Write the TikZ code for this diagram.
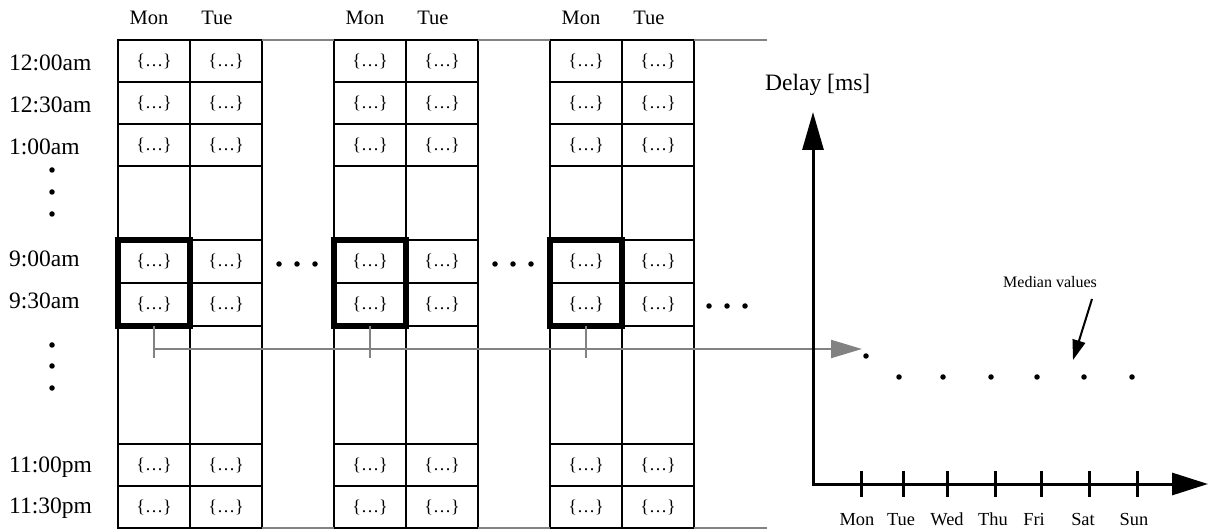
\documentclass[tikz,border=0pt]{standalone}
\usepackage{fontspec}
\setmainfont{Liberation Serif}
\usetikzlibrary{arrows.meta}
\definecolor{linegray}{RGB}{130,130,130}
\begin{document}
\begin{tikzpicture}[x=1pt,y=-1pt,
  cell/.style={draw, line width=2pt, minimum width=72pt, inner sep=0pt, outer sep=0pt, font=\fontsize{18}{20}\selectfont},
  thickbox/.style={draw, line width=5.5pt},
  gridrule/.style={draw=linegray, line width=2pt},
  conn/.style={draw=linegray, line width=2pt},
  connarrow/.style={conn, -{Triangle[length=31pt,width=18pt]}, color=linegray},
  axis/.style={draw, line width=3pt, {Triangle[length=38pt,width=21pt]}-{Triangle[length=36pt,width=22pt]}},
  tick/.style={draw, line width=3pt},
  medarrow/.style={draw, line width=2pt, -{Triangle[length=20pt,width=13pt]}},
  dot/.style={circle, fill, inner sep=0pt, minimum size=5.5pt},
  timelab/.style={anchor=base west, inner sep=0pt, font=\fontsize{23.5}{26}\selectfont},
  header/.style={anchor=base, inner sep=0pt, font=\fontsize{20.5}{24}\selectfont},
  daylab/.style={anchor=base, inner sep=0pt, font=\fontsize{18.4}{22}\selectfont},
  axislab/.style={anchor=base west, inner sep=0pt, font=\fontsize{23.5}{27}\selectfont},
  medlab/.style={anchor=base west, inner sep=0pt, font=\fontsize{16}{18}\selectfont}
]
\useasboundingbox (0,0) rectangle (1208,529);

% grid cells
\foreach \b in {0,1,2} {
  \foreach \c in {0,1} {
    \foreach \r/\ya/\yb in {1/40/82, 2/82/124, 3/124/166, 5/240/283, 6/283/326, 8/444/486, 9/486/528} {
      \node[cell, minimum height={(\yb-\ya)*1pt}] (c-\b-\c-\r) at ({118+216*\b+72*\c+36}, {(\ya+\yb)/2}) {\{…\}};
    }
    \foreach \r/\ya/\yb in {4/166/240, 7/326/444} {
      \node[cell, minimum height={(\yb-\ya)*1pt}] (c-\b-\c-\r) at ({118+216*\b+72*\c+36}, {(\ya+\yb)/2}) {};
    }
  }
  \node[header] (hm-\b) at ({149+216*\b}, 25) {Mon};
  \node[header] (ht-\b) at ({217+216*\b}, 25) {Tue};
}

% gray rules between blocks
\coordinate (topend) at (767,40);
\coordinate (botend) at (767,528);
\draw[gridrule] (c-0-1-1.north east) -- (c-1-0-1.north west);
\draw[gridrule] (c-1-1-1.north east) -- (c-2-0-1.north west);
\draw[gridrule] (c-2-1-1.north east) -- (topend);
\draw[gridrule] (c-0-1-9.south east) -- (c-1-0-9.south west);
\draw[gridrule] (c-1-1-9.south east) -- (c-2-0-9.south west);
\draw[gridrule] (c-2-1-9.south east) -- (botend);

% thick boxes
\foreach \b in {0,1,2} {
  \draw[thickbox] (c-\b-0-5.north west) rectangle (c-\b-0-6.south east);
}

% time labels
\node[timelab] (t1) at (9,70.5) {12:00am};
\node[timelab] (t2) at (9,112.5) {12:30am};
\node[timelab] (t3) at (9,154.5) {1:00am};
\node[timelab] (t5) at (9,267) {9:00am};
\node[timelab] (t6) at (9,309) {9:30am};
\node[timelab] (t8) at (9,472) {11:00pm};
\node[timelab] (t9) at (9,513) {11:30pm};

% vertical ellipsis dots
\foreach \y [count=\i] in {170,192,214} { \node[dot] (va-\i) at (52,\y) {}; }
\foreach \y [count=\i] in {345,366,388} { \node[dot] (vb-\i) at (52,\y) {}; }

% horizontal ellipsis dots
\foreach \x [count=\i] in {279,297,315} { \node[dot] (ha-\i) at (\x,264) {}; }
\foreach \x [count=\i] in {495,513,531} { \node[dot] (hb-\i) at (\x,264) {}; }
\foreach \x [count=\i] in {709,727,745} { \node[dot] (hc-\i) at (\x,306) {}; }

% connector
\coordinate (bus) at (0,349);
\coordinate (tip) at (862,349);
\foreach \b in {0,1,2} {
  \draw[conn] (c-\b-0-6.south) -- ++(0,32);
}
\draw[connarrow] (c-0-0-6.south |- bus) -- (tip);

% axes
\coordinate (ytop) at (813,112);
\coordinate (origin) at (813,484);
\coordinate (xend) at (1208,484);
\draw[axis] (ytop) -- (origin) -- (xend);
\node[axislab] (ylab) at (765,91) {Delay [ms]};

% ticks and day labels
\foreach \x/\lx/\d in {861/857/Mon, 903/901/Tue, 947/947/Wed, 995/993/Thu, 1041/1034/Fri, 1089/1083/Sat, 1137/1134/Sun} {
  \draw[tick] (\x,471) -- (\x,497);
  \node[daylab] (l-\d) at (\lx,525) {\d};
}

% median dots
\node[dot] (d1) at (866,356) {};
\foreach \x [count=\i from 2] in {899,943,991,1037,1084,1132} { \node[dot] (d\i) at (\x,377) {}; }

% median label and arrow
\node[medlab] (med) at (1003,288) {Median values};
\coordinate (ma) at (1092,299);
\coordinate (mb) at (1073,360);
\draw[medarrow] (ma) -- (mb);
\end{tikzpicture}
\end{document}
